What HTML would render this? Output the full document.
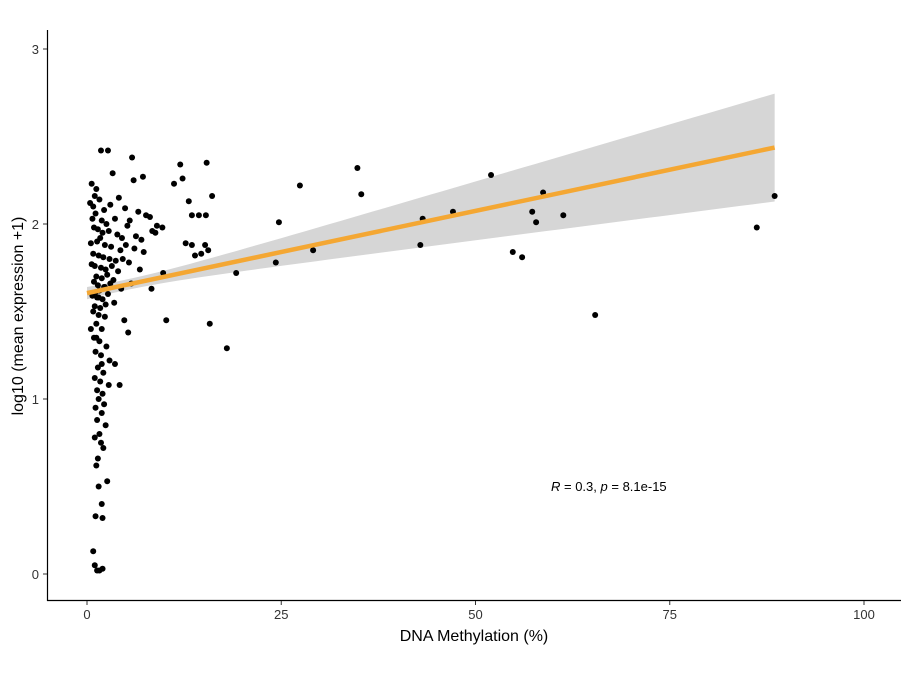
<!DOCTYPE html>
<html><head><meta charset="utf-8"><style>
body{margin:0;background:#fff;font-family:"Liberation Sans",sans-serif}
svg text{font-family:"Liberation Sans",sans-serif}
</style></head><body>
<svg id="chart" width="904" height="688" viewBox="0 0 904 688" xmlns="http://www.w3.org/2000/svg">
<rect width="904" height="688" fill="#fff"/>
<g id="band"></g><g id="pts"></g><g id="fit"></g><g id="axes"></g>
</svg>
<script>
const methX=[
1.8,2.7,5.8,12.0,15.4,34.8,52,27.4,35.3,16.1,
58.7,88.5,24.7,43.2,47.1,57.3,57.8,61.3,86.2,29.1,
42.9,54.8,56,24.3,19.2,65.4,18,15.8,10.2,11.2,
12.3,13.1,13.5,14.4,15.3,12.7,13.5,15.2,13.9,14.7,
15.6,3.3,0.6,1.2,1.0,0.4,0.8,1.6,2.2,3.0,
4.1,4.9,6.0,7.2,7.6,5.5,6.6,8.1,9.0,3.6,
2.5,1.9,0.7,1.1,0.9,1.4,2.0,2.8,3.9,4.5,
5.2,6.3,7.0,8.4,1.3,0.5,1.7,2.3,3.1,4.3,
5.0,6.1,7.3,0.8,1.5,2.1,2.9,3.7,4.6,5.4,
0.6,1.0,1.8,2.4,3.2,4.0,6.8,8.8,9.8,1.2,
1.9,2.6,3.4,5.7,0.9,1.4,2.2,3.0,4.4,1.1,
1.6,2.7,0.7,1.3,2.0,3.5,1.0,1.7,2.4,0.8,
1.5,2.3,4.8,1.2,1.9,5.3,0.9,1.6,2.5,1.1,
1.8,2.9,3.6,1.4,2.1,1.0,1.7,2.8,1.3,2.0,
1.5,2.2,1.1,1.9,1.3,2.4,1.6,1.0,1.8,2.1,
1.4,1.2,2.6,1.5,1.9,1.1,2.0,0.8,1.0,2.0,
1.6,1.3,1.2,0.5,1.5,1.9,9.7,8.3,4.2,2.3];
const exprY=[
2.42,2.42,2.38,2.34,2.35,2.32,2.28,2.22,2.17,2.16,
2.18,2.16,2.01,2.03,2.07,2.07,2.01,2.05,1.98,1.85,
1.88,1.84,1.81,1.78,1.72,1.48,1.29,1.43,1.45,2.23,
2.26,2.13,2.05,2.05,2.05,1.89,1.88,1.88,1.82,1.83,
1.85,2.29,2.23,2.20,2.16,2.12,2.10,2.14,2.08,2.11,
2.15,2.09,2.25,2.27,2.05,2.02,2.07,2.04,1.99,2.03,
2.00,2.02,2.03,2.06,1.98,1.97,1.95,1.96,1.94,1.92,
1.99,1.93,1.91,1.96,1.90,1.89,1.92,1.88,1.87,1.85,
1.88,1.86,1.84,1.83,1.82,1.81,1.80,1.79,1.80,1.78,
1.77,1.76,1.75,1.74,1.76,1.73,1.74,1.95,1.72,1.70,
1.69,1.71,1.68,1.66,1.67,1.65,1.64,1.66,1.63,1.61,
1.62,1.60,1.59,1.58,1.57,1.55,1.53,1.52,1.54,1.50,
1.48,1.47,1.45,1.43,1.40,1.38,1.35,1.33,1.30,1.27,
1.25,1.22,1.20,1.18,1.15,1.12,1.10,1.08,1.05,1.03,
1.00,0.97,0.95,0.92,0.88,0.85,0.80,0.78,0.75,0.72,
0.66,0.62,0.53,0.50,0.40,0.33,0.32,0.13,0.05,0.03,
0.02,0.02,1.35,1.40,1.58,1.20,1.98,1.63,1.08,1.64];
const xTicks=[0,25,50,75,100], yTicks=[0,1,2,3];
const fitIntercept=1.605, fitSlope=0.0094, fitXMax=88.5, ciA=0.0009, ciB=0.0000135, ciMean=5;
const annotR="0.3", annotP="8.1e-15";
const X=v=>87+v*7.77, Y=v=>574-v*175;
const NS="http://www.w3.org/2000/svg";
function mk(t,a,p){const e=document.createElementNS(NS,t);for(const k in a)e.setAttribute(k,a[k]);p.appendChild(e);return e;}
let up=[],lo=[];
for(let i=0;i<=60;i++){const x=fitXMax*i/60,y=fitIntercept+fitSlope*x,h=Math.sqrt(ciA+ciB*(x-ciMean)*(x-ciMean));up.push(X(x)+','+Y(y+h));lo.unshift(X(x)+','+Y(y-h));}
const band=mk('polygon',{points:up.concat(lo).join(' '),fill:'#d6d6d6'},document.getElementById('band'));


const pg=document.getElementById('pts');
const n=Math.min(methX.length,exprY.length);
for(let i=0;i<n;i++){const c=mk('circle',{cx:X(methX[i]),cy:Y(exprY[i]),r:3,fill:'#000'},pg);

}
const ln=mk('line',{x1:X(0),y1:Y(fitIntercept),x2:X(fitXMax),y2:Y(fitIntercept+fitSlope*fitXMax),stroke:'#f4a733','stroke-width':4.5},document.getElementById('fit'));


const ax=document.getElementById('axes');
const xa=mk('line',{x1:47,y1:600.5,x2:901,y2:600.5,stroke:'#000','stroke-width':1.2},ax);


const ya=mk('line',{x1:47.5,y1:30,x2:47.5,y2:601,stroke:'#000','stroke-width':1.2},ax);


xTicks.forEach(t=>{mk('line',{x1:X(t),y1:601,x2:X(t),y2:605,stroke:'#333'},ax);
const tx=mk('text',{x:X(t),y:619,'text-anchor':'middle','font-size':13,fill:'#333'},ax);tx.textContent=t;

});
yTicks.forEach(t=>{mk('line',{x1:43,y1:Y(t),x2:47,y2:Y(t),stroke:'#333'},ax);
const tx=mk('text',{x:39,y:Y(t)+5,'text-anchor':'end','font-size':13,fill:'#333'},ax);tx.textContent=t;

});
const xt=mk('text',{x:474,y:641,'text-anchor':'middle','font-size':16,fill:'#000'},ax);xt.textContent='DNA Methylation (%)';


const yt=mk('text',{x:0,y:0,'text-anchor':'middle','font-size':16,fill:'#000',transform:'translate(23,316) rotate(-90)'},ax);yt.textContent='log10 (mean expression +1)';


const an=mk('text',{x:551,y:491,'font-size':13,fill:'#000'},ax);
an.innerHTML='<tspan font-style="italic">R</tspan> = '+annotR+', <tspan font-style="italic">p</tspan> = '+annotP;


</script>
</body></html>
